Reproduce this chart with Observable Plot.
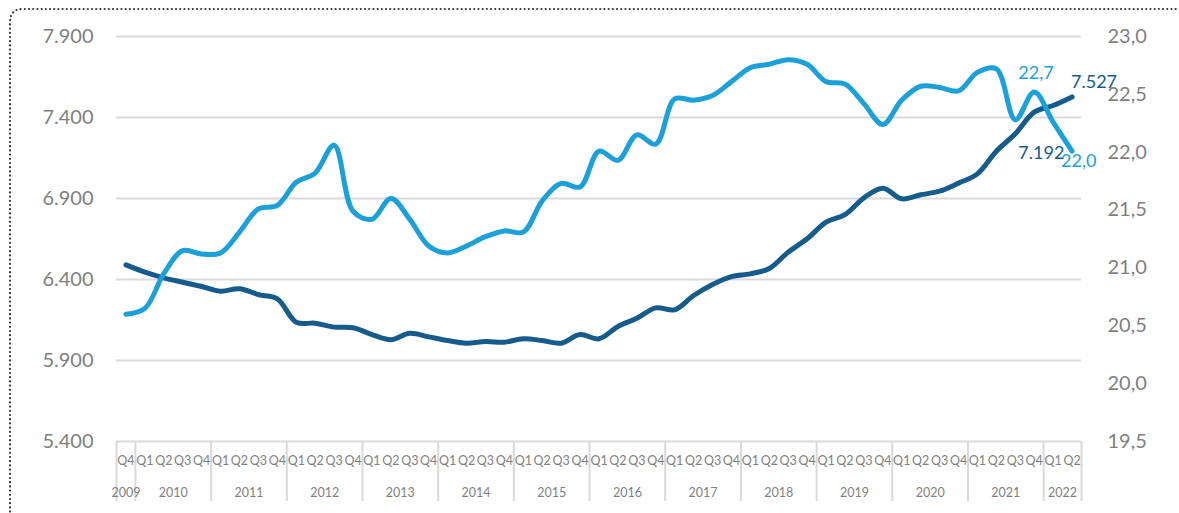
<!DOCTYPE html>
<html><head><meta charset="utf-8">
<script src="https://cdn.jsdelivr.net/npm/d3@7"></script>
<script src="https://cdn.jsdelivr.net/npm/@observablehq/plot@0.6"></script>
<style>
html,body{margin:0;padding:0;background:#fff;overflow:hidden;}
#wrap{position:relative;width:1179px;height:513px;overflow:hidden;}
#chart svg{display:block;overflow:hidden;}
</style></head>
<body><div id="wrap"><div id="chart"></div></div>
<script>
// Periods (quarters) Q4 2009 .. Q2 2022
const quarters = ["Q4",
  "Q1","Q2","Q3","Q4","Q1","Q2","Q3","Q4","Q1","Q2","Q3","Q4",
  "Q1","Q2","Q3","Q4","Q1","Q2","Q3","Q4","Q1","Q2","Q3","Q4",
  "Q1","Q2","Q3","Q4","Q1","Q2","Q3","Q4","Q1","Q2","Q3","Q4",
  "Q1","Q2","Q3","Q4","Q1","Q2","Q3","Q4","Q1","Q2","Q3","Q4",
  "Q1","Q2"];
const years = ["2009","2010","2011","2012","2013","2014","2015","2016","2017","2018","2019","2020","2021","2022"];
const quartersPerYear = [1,4,4,4,4,4,4,4,4,4,4,4,4,2];

// Dark series (left axis)
const darkValues = [6490,6445,6410,6383,6357,6328,6343,6307,6281,6136,6130,6106,6102,6060,6028,6068,6046,6023,6007,6017,6013,6034,6023,6007,6060,6034,6110,6161,6225,6213,6301,6369,6418,6435,6468,6569,6651,6754,6801,6904,6964,6898,6923,6945,6995,7052,7192,7299,7433,7474,7527];
// Light series (right axis)
const lightValues = [20.60,20.65,20.95,21.15,21.12,21.13,21.31,21.51,21.54,21.74,21.82,22.06,21.49,21.42,21.60,21.42,21.19,21.13,21.19,21.27,21.32,21.31,21.58,21.73,21.70,22.01,21.93,22.15,22.07,22.46,22.45,22.49,22.61,22.73,22.76,22.80,22.76,22.61,22.59,22.42,22.24,22.45,22.57,22.56,22.53,22.69,22.72,22.28,22.52,22.26,22.01];

const leftTicks = [5400,5900,6400,6900,7400,7900];
const rightTicks = [19.5,20.0,20.5,21.0,21.5,22.0,22.5,23.0];

const darkColor = "#155b8b";
const lightColor = "#1ca0d9";
const gray = "#7f7f7f";

const loc = d3.formatLocale({decimal: ",", thousands: ".", grouping: [3], currency: ["", ""]});
const fmtLeft = loc.format(",.0f");
const fmtRight = loc.format(".1f");

// map right axis domain onto left axis domain
const L0 = 5400, L1 = 7900, R0 = 19.5, R1 = 23.0;
const toLeft = v => L0 + (v - R0) * (L1 - L0) / (R1 - R0);
const fromLeft = v => R0 + (v - L0) * (R1 - R0) / (L1 - L0);

const idx = quarters.map((q, i) => i);
const dark = idx.map(i => ({i, v: darkValues[i]}));
const light = idx.map(i => ({i, v: toLeft(lightValues[i]), raw: lightValues[i]}));

// year groups
let start = 0;
const yearGroups = years.map((y, k) => {
  const g = {year: y, a: start - 0.5, b: start + quartersPerYear[k] - 0.5};
  start += quartersPerYear[k];
  g.mid = (g.a + g.b) / 2;
  return g;
});
const boundaries = [yearGroups[0].a, ...yearGroups.map(g => g.b)];

const last = quarters.length - 1;
const yearAgo = last - 4;

const chart = Plot.plot({
  width: 1179, height: 513,
  marginLeft: 116, marginRight: 98, marginTop: 36, marginBottom: 72,
  x: {type: "linear", domain: [-0.5, last + 0.5]},
  y: {domain: [L0, L1]},
  style: {fontFamily: "Lato, 'Open Sans', sans-serif", background: "white", overflow: "hidden"},
  marks: [
    Plot.ruleY(leftTicks, {stroke: "#d9d9d9", strokeWidth: 2}),
    Plot.ruleX(boundaries, {y1: L0, y2: L0, insetBottom: -60, stroke: "#d9d9d9", strokeWidth: 2}),
    Plot.axisY(leftTicks, {anchor: "left", tickSize: 0, tickPadding: 23, tickFormat: fmtLeft, fontSize: 20, fill: gray, label: null}),
    Plot.axisY(rightTicks.map(toLeft), {anchor: "right", tickSize: 0, tickPadding: 26, tickFormat: d => fmtRight(fromLeft(d)), fontSize: 20, fill: gray, label: null}),
    Plot.axisX(idx, {anchor: "bottom", tickSize: 0, tickPadding: 15, tickFormat: i => quarters[i], fontSize: 12.5, fill: gray, label: null}),
    Plot.text(yearGroups, {x: "mid", y: () => L0, text: "year", dy: 51, fontSize: 12.5, fill: gray}),
    Plot.line(dark, {x: "i", y: "v", stroke: darkColor, strokeWidth: 5, curve: "catmull-rom"}),
    Plot.line(light, {x: "i", y: "v", stroke: lightColor, strokeWidth: 5, curve: "catmull-rom"}),
    Plot.text([light[yearAgo]], {x: "i", y: "v", text: d => fmtRight(d.raw), dx: 22, dy: 4, textAnchor: "start", fontSize: 18, fill: lightColor}),
    Plot.text([dark[yearAgo]], {x: "i", y: "v", text: d => fmtLeft(d.v), dx: 22, dy: 2, textAnchor: "start", fontSize: 18, fill: darkColor}),
    Plot.text([dark[last]], {x: "i", y: "v", text: d => fmtLeft(d.v), dx: -1, dy: -15, textAnchor: "start", fontSize: 18, fill: darkColor}),
    Plot.text([light[last]], {x: "i", y: "v", text: d => fmtRight(d.raw), dx: -11, dy: 10, textAnchor: "start", fontSize: 18, fill: lightColor})
  ]
});
// decorative dotted outer frame (left and top edges visible; the rest lies outside the picture)
d3.select(chart).append("path")
  .attr("d", "M10,520 V22 Q10,9 23,9 H1190")
  .attr("fill", "none")
  .attr("stroke", "#333")
  .attr("stroke-width", 2.2)
  .attr("stroke-linecap", "round")
  .attr("stroke-dasharray", "0 4.2");
document.getElementById("chart").appendChild(chart);
</script></body></html>
